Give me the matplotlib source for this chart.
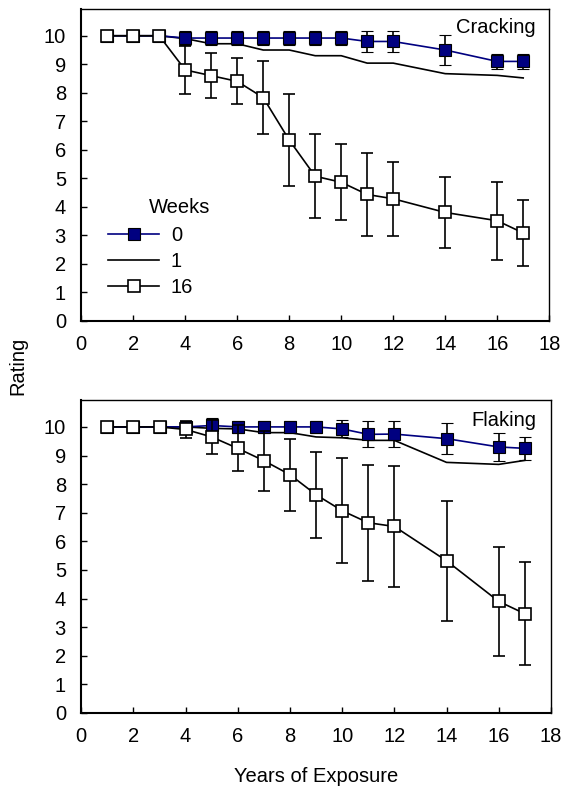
import matplotlib.pyplot as plt
from matplotlib.lines import Line2D

plt.rcParams['font.family'] = ['Liberation Sans', 'DejaVu Sans']

years = [1, 2, 3, 4, 5, 6, 7, 8, 9, 10, 11, 12, 14, 16, 17]

# Cracking
crack_w0 = [10, 10, 10, 9.92, 9.92, 9.92, 9.92, 9.92, 9.92, 9.92, 9.8, 9.8, 9.5, 9.1, 9.1]
crack_w0_err = [0, 0, 0, 0.25, 0.25, 0.25, 0.25, 0.25, 0.25, 0.25, 0.38, 0.38, 0.52, 0.27, 0.27]
crack_w1 = [10, 10, 10, 9.9, 9.72, 9.72, 9.5, 9.5, 9.3, 9.3, 9.04, 9.04, 8.67, 8.61, 8.52]
crack_w16 = [10, 10, 10, 8.8, 8.6, 8.4, 7.83, 6.34, 5.07, 4.86, 4.43, 4.28, 3.8, 3.51, 3.08]
crack_w16_err = [0, 0, 0, 0.83, 0.8, 0.81, 1.27, 1.62, 1.48, 1.34, 1.45, 1.3, 1.26, 1.37, 1.16]

# Flaking
flake_w0 = [10, 10, 10, 10.0, 10.05, 10.0, 10.0, 10.0, 10.0, 9.93, 9.74, 9.75, 9.59, 9.3, 9.25]
flake_w0_err = [0, 0, 0, 0.2, 0.25, 0.2, 0.2, 0.2, 0.2, 0.3, 0.45, 0.45, 0.53, 0.48, 0.4]
flake_w1 = [10, 10, 10, 10.0, 9.95, 9.93, 9.8, 9.8, 9.65, 9.62, 9.53, 9.53, 8.76, 8.69, 8.83]
flake_w16 = [10, 10, 10, 9.91, 9.65, 9.25, 8.82, 8.33, 7.63, 7.07, 6.65, 6.52, 5.32, 3.9, 3.47]
flake_w16_err = [0, 0, 0, 0.3, 0.6, 0.8, 1.05, 1.26, 1.51, 1.83, 2.03, 2.1, 2.1, 1.9, 1.8]

week_labels = ['0', '1', '16']

navy = '#000080'
fs = 14.5

fig = plt.figure(figsize=(5.7, 7.9), dpi=100)
ax1 = fig.add_axes([0.1425, 0.594, 0.821, 0.395])
ax2 = fig.add_axes([0.1425, 0.0975, 0.824, 0.3965])


def draw_panel(ax, w0, w0_err, w1, w16, w16_err, title, ty):
    ax.errorbar(years, w0, yerr=w0_err, color=navy, ecolor='black', elinewidth=1.2,
                capsize=4, capthick=1.2, marker='s', markersize=8.5,
                markerfacecolor=navy, markeredgecolor='black', markeredgewidth=0.8,
                lw=1.2, zorder=3)
    ax.plot(years, w1, color='black', lw=1.2, zorder=2)
    ax.errorbar(years, w16, yerr=w16_err, color='black', ecolor='black', elinewidth=1.2,
                capsize=4, capthick=1.2, marker='s', markersize=8.5,
                markerfacecolor='white', markeredgecolor='black', markeredgewidth=1.2,
                lw=1.2, zorder=4)
    ax.set_xlim(0, 18)
    ax.set_ylim(0, 10.95)
    ax.set_xticks(range(0, 19, 2))
    ax.set_yticks(range(0, 11))
    ax.tick_params(direction='in', length=4, width=1, labelsize=fs)
    ax.tick_params(axis='y', pad=11)
    ax.tick_params(axis='x', pad=10)
    for s in ax.spines.values():
        s.set_linewidth(1)
    ax.spines['left'].set_linewidth(1.5)
    ax.spines['bottom'].set_linewidth(1.5)
    ax.text(0.97, ty, title, transform=ax.transAxes, ha='right', va='center', fontsize=fs)


draw_panel(ax1, crack_w0, crack_w0_err, crack_w1, crack_w16, crack_w16_err, 'Cracking', 0.94)
draw_panel(ax2, flake_w0, flake_w0_err, flake_w1, flake_w16, flake_w16_err, 'Flaking', 0.935)

handles = [
    Line2D([], [], color=navy, lw=1.2, marker='s', markersize=8.5,
           markerfacecolor=navy, markeredgecolor='black', markeredgewidth=0.8),
    Line2D([], [], color='black', lw=1.2),
    Line2D([], [], color='black', lw=1.2, marker='s', markersize=8.5,
           markerfacecolor='white', markeredgecolor='black', markeredgewidth=1.2),
]
ax1.legend(handles, week_labels, loc='upper left', bbox_to_anchor=(0.058, 0.305),
           frameon=False, fontsize=fs, handlelength=2.5, handletextpad=0.6,
           labelspacing=0.35, borderpad=0, borderaxespad=0)
ax1.text(0.145, 0.362, 'Weeks', transform=ax1.transAxes, ha='left', va='center', fontsize=fs)

fig.text(0.032, 0.537, 'Rating', rotation=90, ha='center', va='center', fontsize=fs)
ax2.set_xlabel('Years of Exposure', fontsize=fs, labelpad=15)

fig.savefig('out.png', dpi=100)
